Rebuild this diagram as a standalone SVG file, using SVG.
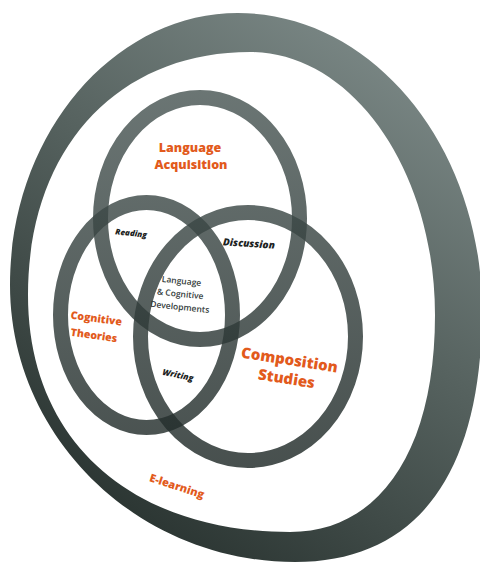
<svg xmlns="http://www.w3.org/2000/svg" width="480" height="563" viewBox="0 0 480 563">
<defs>
<linearGradient id="ringGrad" x1="0.85" y1="0.05" x2="0.3" y2="1">
<stop offset="0" stop-color="#7d8a88"/>
<stop offset="0.45" stop-color="#56625f"/>
<stop offset="1" stop-color="#28322f"/>
</linearGradient>
<linearGradient id="circGrad" gradientUnits="userSpaceOnUse" x1="0" y1="90" x2="0" y2="470">
<stop offset="0" stop-color="#4a5755"/>
<stop offset="1" stop-color="#1f2927"/>
</linearGradient>
<style>
.circ{fill:none;stroke:url(#circGrad);stroke-width:15;stroke-opacity:0.82}
.org{font-family:"Open Sans","Liberation Sans",sans-serif;font-weight:800;fill:#e25a1c;text-anchor:middle}
.ovl{font-family:"Open Sans","Liberation Sans",sans-serif;font-weight:800;font-style:italic;fill:#1c2322;text-anchor:middle}
.ctr{font-family:"Open Sans","Liberation Sans",sans-serif;font-weight:600;fill:#343c3b;text-anchor:middle;font-size:8.5px}
</style>
</defs>
<rect width="480" height="563" fill="#ffffff"/>
<g id="e-learning">
<path fill="url(#ringGrad)" fill-rule="evenodd" d="M238,13 C372,13 482,146 482,310 C482,474 417,562 295,562 C138,562 10,437 10,285 C10,135 113,13 238,13 Z M250,52 C117,52 28,149 28,295 C28,442 133,532 290,532 C380,532 435,450 435,315 C435,170 352,52 250,52 Z"/>
<text class="org" font-size="11" transform="rotate(18 177 486)" x="177" y="490">E-learning</text>
</g>
<g id="language-acquisition">
<ellipse class="circ" cx="200" cy="218.5" rx="99.5" ry="121"/>
<text class="org" font-size="12.5" x="190" y="152">Language</text>
<text class="org" font-size="12.5" x="191" y="169">Acquisition</text>
</g>
<g id="cognitive-theories">
<ellipse class="circ" cx="146.5" cy="315" rx="86" ry="112.5"/>
<text class="org" font-size="10.5" transform="rotate(8 95 328)"><tspan x="95" y="322">Cognitive</tspan><tspan x="95" y="339">Theories</tspan></text>
</g>
<g id="composition-studies">
<ellipse class="circ" cx="248" cy="336.5" rx="107.5" ry="124"/>
<text class="org" font-size="15" transform="rotate(9 288 370)"><tspan x="288" y="365">Composition</tspan><tspan x="288" y="384">Studies</tspan></text>
</g>
<g id="reading">
<text class="ovl" font-size="8" transform="rotate(6 131 234)" x="131" y="236">Reading</text>
</g>
<g id="discussion">
<text class="ovl" font-size="10" transform="rotate(4 249 243)" x="249" y="247">Discussion</text>
</g>
<g id="writing">
<text class="ovl" font-size="8.5" transform="rotate(12 178 375)" x="178" y="378">Writing</text>
</g>
<g id="language-cognitive-developments">
<text class="ctr" transform="rotate(6 181 296)"><tspan x="180" y="284">Language</tspan><tspan x="180" y="297">&amp; Cognitive</tspan><tspan x="181" y="310">Developments</tspan></text>
</g>
<g id="connectors"/>
</svg>
